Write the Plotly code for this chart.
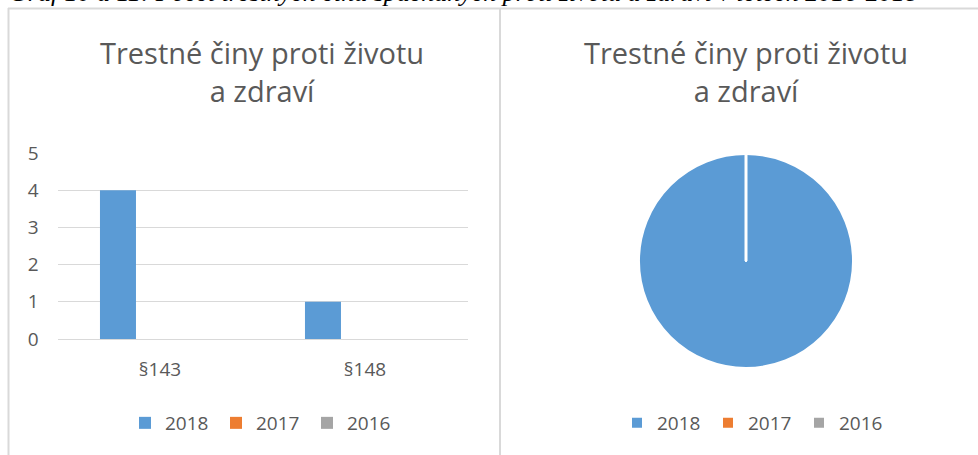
import plotly.graph_objects as go

W, H = 978, 455

categories = ["§143", "§148"]
years = ["2018", "2017", "2016"]
values_2018 = [4, 1]
values_2017 = [0, 0]
values_2016 = [0, 0]
series = [values_2018, values_2017, values_2016]
colors = ["#5B9BD5", "#ED7D31", "#A5A5A5"]
y_ticks = [0, 1, 2, 3, 4, 5]

pie_labels = years
pie_values = [sum(v) for v in series]

caption = "Graf 10 a 11: Počet trestných činů spáchaných proti životu a zdraví v letech 2016-2018"
title_text = "Trestné činy proti životu<br>a zdraví"

FONT = "Open Sans"
GREY = "#595959"

def px(x):
    return x / W

def py(y):
    return 1 - y / H

fig = go.Figure()
for name, vals, col in zip(years, series, colors):
    fig.add_trace(go.Bar(
        x=categories, y=vals, name=name, marker=dict(color=col, line=dict(width=0)),
        xaxis="x", yaxis="y", legend="legend",
    ))

pie_dom_x = [px(639), px(853)]
pie_dom_y = [py(368), py(154)]
fig.add_trace(go.Pie(
    labels=pie_labels, values=pie_values, sort=False, direction="clockwise",
    marker=dict(colors=colors, line=dict(color="white", width=2)),
    textinfo="none", hoverinfo="label+value", showlegend=True,
    domain=dict(x=pie_dom_x, y=pie_dom_y), legend="legend2",
))

cx = (pie_dom_x[0] + pie_dom_x[1]) / 2
cy = (pie_dom_y[0] + pie_dom_y[1]) / 2

shapes = [
    dict(type="line", xref="paper", yref="paper", x0=px(8.5), x1=px(8.5), y0=py(8), y1=-0.05,
         line=dict(color="#D9D9D9", width=2)),
    dict(type="line", xref="paper", yref="paper", x0=px(8), x1=1.05, y0=py(8.5), y1=py(8.5),
         line=dict(color="#D9D9D9", width=2)),
    dict(type="line", xref="paper", yref="paper", x0=px(500), x1=px(500), y0=py(8), y1=-0.05,
         line=dict(color="#D9D9D9", width=2)),
    dict(type="line", xref="paper", yref="paper", x0=cx, x1=cx, y0=cy, y1=pie_dom_y[1] + 0.005,
         line=dict(color="white", width=3)),
]

annotations = [
    dict(text="<i>" + caption + "</i>", xref="paper", yref="paper", x=px(7), y=1,
         xanchor="left", yanchor="bottom", yshift=-9.5, showarrow=False,
         font=dict(family="Liberation Serif", size=26, color="#000000")),
]
for xc in (262, 746):
    annotations.append(dict(text=title_text, xref="paper", yref="paper", x=px(xc), y=py(31),
                            xanchor="center", yanchor="top", showarrow=False,
                            font=dict(family=FONT, size=29, color=GREY)))

fig.update_layout(
    width=W, height=H,
    margin=dict(l=0, r=0, t=0, b=0, autoexpand=False),
    paper_bgcolor="white", plot_bgcolor="white",
    barmode="group", bargap=0.385, bargroupgap=0.143,
    xaxis=dict(domain=[px(57.5), px(467.5)], showgrid=False, zeroline=False, showline=False,
               tickfont=dict(family=FONT, size=19, color=GREY), ticks="", ticklabelstandoff=17,
               fixedrange=True),
    yaxis=dict(domain=[py(339), py(153)], range=[0, 5], tickvals=y_ticks, showgrid=True,
               gridcolor="#D9D9D9", gridwidth=1, zeroline=True, zerolinecolor="#D9D9D9", zerolinewidth=1,
               showline=False, ticks="", tickfont=dict(family=FONT, size=19, color=GREY),
               ticklabelstandoff=18, fixedrange=True),
    legend=dict(orientation="h", x=px(125), xanchor="left", y=py(423), yanchor="middle",
                font=dict(family=FONT, size=19, color=GREY), entrywidth=46, entrywidthmode="pixels",
                bgcolor="rgba(0,0,0,0)", traceorder="normal"),
    legend2=dict(orientation="h", x=px(617), xanchor="left", y=py(423), yanchor="middle",
                 font=dict(family=FONT, size=19, color=GREY), entrywidth=46, entrywidthmode="pixels",
                 bgcolor="rgba(0,0,0,0)", traceorder="normal"),
    shapes=shapes,
    annotations=annotations,
    showlegend=True,
)

fig.write_html("out.html", config={"displayModeBar": False},
               post_script="document.body.style.margin='0px';")
